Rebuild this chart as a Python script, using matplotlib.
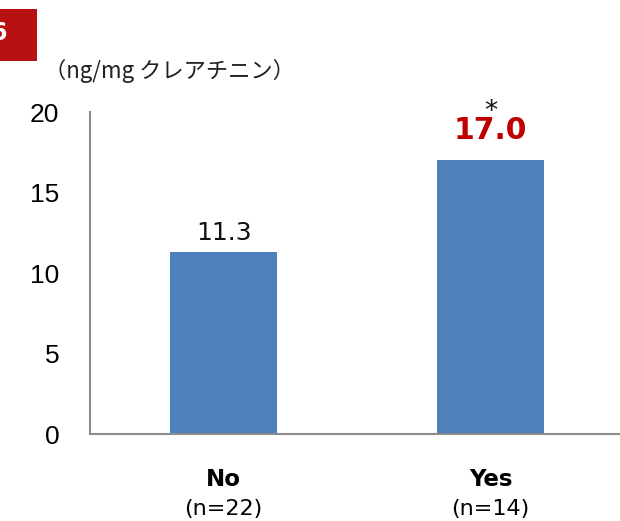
import matplotlib
matplotlib.use("Agg")
import matplotlib.pyplot as plt
from matplotlib.patches import Rectangle

categories = ["No", "Yes"]
counts = ["(n=22)", "(n=14)"]
values = [11.3, 17.0]
value_labels = ["11.3", "17.0"]
yticks = [0, 5, 10, 15, 20]
unit_label = "（ng/mg クレアチニン）"

W, H = 620, 521
fig = plt.figure(figsize=(W / 100, H / 100), dpi=100)
ax = fig.add_axes([90 / W, 1 - 434 / H, 1 - 90 / W, (434 - 112) / H])

bar_color = "#4F81BD"
ax.bar([0, 1], values, width=107 / 266.5, color=bar_color, zorder=2)
ax.set_xlim(-0.5, 1.484)
ax.set_ylim(0, 20)

ax.set_yticks(yticks)
ax.set_yticklabels([str(t) for t in yticks], fontsize=19, family="Liberation Sans")
ax.tick_params(axis="y", length=0, pad=22)
ax.set_xticks([])
for s in ["top", "right"]:
    ax.spines[s].set_visible(False)
for s in ["left", "bottom"]:
    ax.spines[s].set_color("#8C8C8C")
    ax.spines[s].set_linewidth(1.5)

# value labels
ax.annotate(value_labels[0], (0, values[0]), xytext=(0, 5), textcoords="offset points",
            ha="center", va="bottom", fontsize=18, family="DejaVu Sans", color="#111111")
ax.annotate(value_labels[1], (1, values[1]), xytext=(0, 11), textcoords="offset points",
            ha="center", va="bottom", fontsize=21.5, fontweight="bold", family="DejaVu Sans",
            color="#C00000")
ax.annotate("*", (1, values[1]), xytext=(0, 35), textcoords="offset points",
            ha="center", va="center", fontsize=19, family="DejaVu Sans", color="#111111")

# category labels
for i, (c, n) in enumerate(zip(categories, counts)):
    ax.annotate(c, (i, 0), xytext=(0, -32.5), textcoords="offset points", ha="center",
                va="center", fontsize=16.5, fontweight="bold", family="DejaVu Sans")
    ax.annotate(n, (i, 0), xytext=(0, -54), textcoords="offset points", ha="center",
                va="center", fontsize=16, family="DejaVu Sans")

fig.text(44 / W, 1 - 71 / H, unit_label, ha="left", va="center", fontsize=16,
         family=["Noto Sans CJK JP", "DejaVu Sans"], color="#222222")

# red corner box
fig.patches.append(Rectangle((0, 1 - 61 / H), 37 / W, 52 / H, transform=fig.transFigure,
                             facecolor="#B81111", edgecolor="none"))
fig.text(-10 / W, 1 - 33 / H, "6", ha="left", va="center", fontsize=17, fontweight="bold",
         color="white", family="DejaVu Sans")

fig.savefig("out.png", dpi=100)
